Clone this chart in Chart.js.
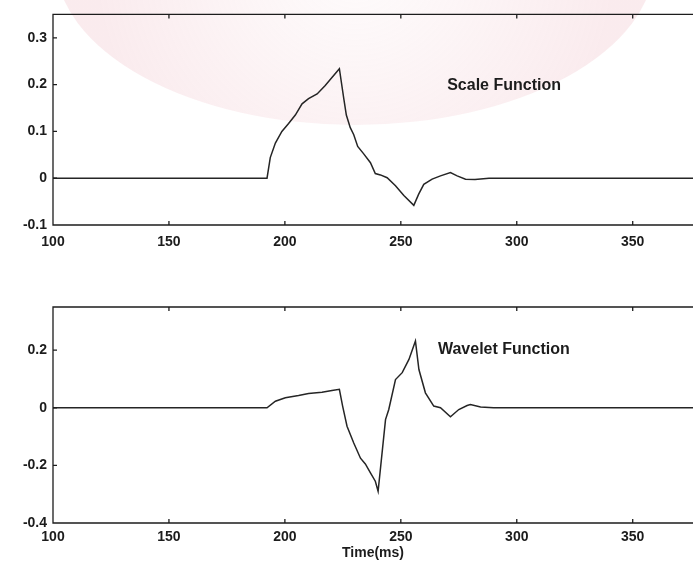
<!DOCTYPE html>
<html>
<head>
<meta charset="utf-8">
<title>Scale and wavelet functions</title>
<script src="https://cdn.jsdelivr.net/npm/chart.js@4.4.0/dist/chart.umd.min.js"></script>
<style>
  body { margin: 0; background: #fff; width: 693px; height: 563px; overflow: hidden; position: relative; }
  canvas { position: absolute; left: 0; }
  #top { top: 0; }
  #bottom { top: 270px; }
</style>
</head>
<body>
<canvas id="top" width="693" height="262"></canvas>
<canvas id="bottom" width="693" height="293"></canvas>
<script>
// time axis (ms) and tick labels
let timeTicks = [100, 150, 200, 250, 300, 350]

// scale function samples
let scaleTime = [100, 192.3, 193.7, 195.9, 198.7, 201.6, 204.5, 207.4, 210.2, 213.9, 217.4, 220.3, 223.5,
    225.4, 226.5, 228.2, 229.7, 231.4, 234.0, 236.9, 239.0, 241.2, 244.1, 247.7, 251.3, 255.6,
    257.7, 259.9, 263.5, 267.1, 271.4, 274.3, 277.9, 282.0, 288.0, 400]
let scaleValues = [0, 0, 0.044, 0.075, 0.100, 0.117, 0.135, 0.159, 0.170, 0.180, 0.198, 0.215, 0.234,
    0.170, 0.135, 0.108, 0.093, 0.068, 0.052, 0.033, 0.010, 0.007, 0.001, -0.016, -0.037, -0.058,
    -0.034, -0.013, -0.002, 0.005, 0.012, 0.005, -0.002, -0.003, 0, 0]
let scaleTicks = [-0.1, 0, 0.1, 0.2, 0.3]

// wavelet function samples
let waveletTime = [100, 192.3, 195.9, 200.2, 205.9, 210.2, 216.0, 220.3, 223.5, 224.9, 226.8, 229.7,
    232.6, 234.7, 236.9, 239.0, 240.2, 243.4, 244.8, 247.7, 250.6, 253.5, 256.3, 257.8, 260.6,
    264.2, 267.1, 271.4, 275.0, 278.6, 280.0, 284.4, 290.0, 400]
let waveletValues = [0, 0, 0.023, 0.035, 0.043, 0.050, 0.054, 0.060, 0.064, 0.006, -0.064, -0.122,
    -0.175, -0.195, -0.226, -0.255, -0.290, -0.041, -0.006, 0.098, 0.122, 0.168, 0.232, 0.133, 0.052,
    0.006, 0, -0.031, -0.006, 0.008, 0.011, 0.003, 0, 0]
let waveletTicks = [-0.4, -0.2, 0, 0.2]

const FONT = "'Liberation Sans', Arial, Helvetica, sans-serif"
const INK = '#1c1c1c'

function toPoints(xs, ys) {
    return xs.map((x, i) => ({x: x, y: ys[i]}))
}

function fmt(v) {
    return String(Math.round(v * 10) / 10)
}

// matlab-like box: left, top and bottom edges with inward ticks, plus a text note
const framePlugin = {
    id: 'frame',
    afterDatasetsDraw(chart, args, opts) {
        const {ctx, chartArea: a, scales: {x, y}} = chart
        ctx.save()
        ctx.strokeStyle = INK
        ctx.lineWidth = 1.3
        ctx.beginPath()
        ctx.moveTo(a.right, a.top)
        ctx.lineTo(a.left, a.top)
        ctx.lineTo(a.left, a.bottom)
        ctx.lineTo(a.right, a.bottom)
        x.ticks.forEach(t => {
            const px = x.getPixelForValue(t.value)
            ctx.moveTo(px, a.top)
            ctx.lineTo(px, a.top + 4)
            ctx.moveTo(px, a.bottom)
            ctx.lineTo(px, a.bottom - 4)
        })
        y.ticks.forEach(t => {
            const py = y.getPixelForValue(t.value)
            ctx.moveTo(a.left, py)
            ctx.lineTo(a.left + 4, py)
        })
        ctx.stroke()

        ctx.fillStyle = INK
        ctx.font = 'bold 16px ' + FONT
        ctx.textAlign = 'left'
        ctx.textBaseline = 'middle'
        ctx.fillText(opts.text, x.getPixelForValue(opts.at[0]), y.getPixelForValue(opts.at[1]))
        ctx.restore()
    }
}

// faint pink seal stamped behind the upper plot
const sealPlugin = {
    id: 'seal',
    beforeDraw(chart) {
        const ctx = chart.ctx
        ctx.save()
        const g = ctx.createRadialGradient(355, -40, 40, 355, -40, 260)
        g.addColorStop(0, 'rgba(240, 200, 206, 0.10)')
        g.addColorStop(0.6, 'rgba(238, 185, 194, 0.20)')
        g.addColorStop(1, 'rgba(236, 178, 188, 0.26)')
        ctx.fillStyle = g
        ctx.beginPath()
        ctx.ellipse(355, -40, 300, 165, 0, 0, Math.PI)
        ctx.fill()
        ctx.restore()
    }
}

function makeChart(canvas, xs, ys, yMin, yTicks, note, extra) {
    return new Chart(canvas, {
        type: 'line',
        data: {
            datasets: [{
                data: toPoints(xs, ys),
                borderColor: '#252525',
                borderWidth: 1.5,
                pointRadius: 0,
                tension: 0,
                fill: false
            }]
        },
        options: {
            responsive: false,
            animation: false,
            layout: {padding: {top: extra.padTop, left: 0, right: 0, bottom: 0}},
            scales: {
                x: {
                    type: 'linear',
                    min: 100,
                    max: 376,
                    afterFit: s => { s.height = extra.axisHeight },
                    afterBuildTicks: s => { s.ticks = timeTicks.map(v => ({value: v})) },
                    grid: {display: false, drawTicks: false},
                    border: {display: false},
                    ticks: {
                        color: INK,
                        font: {family: FONT, size: 14, weight: 'bold'},
                        padding: extra.tickPad,
                        maxRotation: 0,
                        autoSkip: false
                    },
                    title: extra.title ? {
                        display: true,
                        text: extra.title,
                        color: INK,
                        font: {family: FONT, size: 14, weight: 'bold'},
                        padding: {top: 0, bottom: 1}
                    } : {display: false}
                },
                y: {
                    min: yMin,
                    max: 0.35,
                    afterFit: s => { s.width = 53 },
                    afterBuildTicks: s => { s.ticks = yTicks.map(v => ({value: v})) },
                    grid: {display: false, drawTicks: false},
                    border: {display: false},
                    ticks: {
                        color: INK,
                        font: {family: FONT, size: 14, weight: 'bold'},
                        padding: 6,
                        callback: v => fmt(v)
                    }
                }
            },
            plugins: {
                legend: {display: false},
                tooltip: {enabled: false},
                frame: note
            }
        },
        plugins: extra.plugins
    })
}

makeChart(document.getElementById('top'), scaleTime, scaleValues, -0.1, scaleTicks,
    {text: 'Scale Function', at: [270, 0.198]},
    {padTop: 14, axisHeight: 37, tickPad: 9, plugins: [sealPlugin, framePlugin]})

makeChart(document.getElementById('bottom'), waveletTime, waveletValues, -0.4, waveletTicks,
    {text: 'Wavelet Function', at: [266, 0.203]},
    {padTop: 37, axisHeight: 40, tickPad: 6, title: 'Time(ms)', plugins: [framePlugin]})
</script>
</body>
</html>
